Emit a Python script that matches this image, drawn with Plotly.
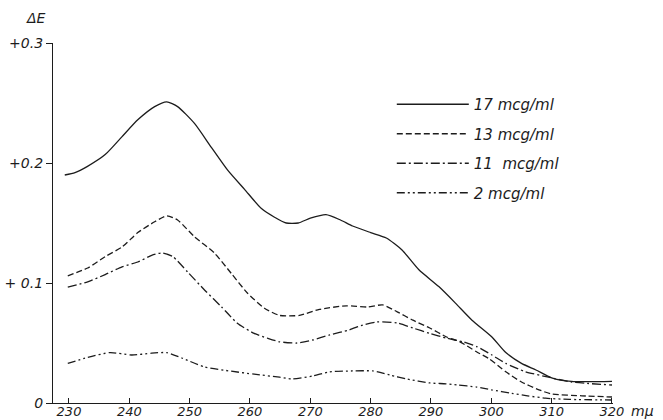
import plotly.graph_objects as go

# ---- data ----
x17 = [229.3, 231, 233, 236, 238.8, 241.4, 244.2, 246.2, 248, 250.8, 253.6, 256.3, 259.1, 261.9, 264,
       266, 268, 270, 272.6, 275, 277, 280, 282.6, 285.2, 288, 291.3, 294.1, 296.8, 300.1, 302.4, 305,
       307.4, 310, 313.3, 320]
y17 = [0.190, 0.192, 0.197, 0.207, 0.222, 0.236, 0.247, 0.251, 0.247, 0.233, 0.213, 0.194, 0.178, 0.162,
       0.155, 0.150, 0.150, 0.154, 0.157, 0.1525, 0.1475, 0.142, 0.1375, 0.1275, 0.111, 0.097, 0.083,
       0.069, 0.055, 0.042, 0.033, 0.0275, 0.021, 0.018, 0.018]

x13 = [229.8, 233.1, 236, 238.8, 241.4, 244.2, 246.2, 248, 250.8, 254.1, 256.9, 259.6, 262.4, 264.9,
       268.2, 271.5, 276, 279.4, 282, 284.4, 287, 289.8, 292.6, 294.8, 297.6, 299.6, 302.4, 305, 307.9,
       310, 315, 320]
y13 = [0.106, 0.1125, 0.122, 0.130, 0.142, 0.151, 0.156, 0.1525, 0.1385, 0.125, 0.108, 0.0915, 0.079,
       0.073, 0.073, 0.078, 0.081, 0.080, 0.0817, 0.076, 0.069, 0.0625, 0.055, 0.051, 0.0425, 0.037,
       0.026, 0.0175, 0.011, 0.0075, 0.006, 0.005]

x11 = [229.8, 233.1, 236, 238.8, 241.4, 243.7, 245.4, 247.2, 249.7, 252.5, 255.3, 257.9, 260.7, 262.9,
       264.9, 267.8, 270.4, 273.2, 276.5, 278.7, 281, 284.4, 287, 289.8, 292.6, 295.3, 297.6, 300.1,
       302.4, 305.7, 309.5, 313.3, 320]
y11 = [0.0965, 0.101, 0.107, 0.1135, 0.1175, 0.123, 0.125, 0.122, 0.109, 0.094, 0.080, 0.0665, 0.058,
       0.054, 0.051, 0.050, 0.0525, 0.0567, 0.061, 0.065, 0.0675, 0.0667, 0.0625, 0.058, 0.054, 0.051,
       0.047, 0.040, 0.033, 0.026, 0.0215, 0.0175, 0.015]

x2 = [229.8, 233.1, 236.8, 240.4, 243.7, 246.2, 248.7, 252.5, 256.9, 260.7, 264.9, 267, 270.4, 273.2,
      277, 280.4, 283.2, 286, 289.8, 292.5, 294.3, 297.6, 300, 303.4, 306, 309, 313, 320]
y2 = [0.033, 0.038, 0.042, 0.040, 0.0415, 0.042, 0.0375, 0.030, 0.0265, 0.024, 0.0215, 0.020, 0.0225,
      0.026, 0.0267, 0.0267, 0.0233, 0.020, 0.0167, 0.016, 0.015, 0.0133, 0.011, 0.008, 0.006, 0.004,
      0.003, 0.0025]

series_names = ["17 mcg/ml", "13 mcg/ml", "11  mcg/ml", "2 mcg/ml"]
series_x = [x17, x13, x11, x2]
series_y = [y17, y13, y11, y2]
dashes = ["solid", "6px,3px", "9px,3px,2px,3px", "8px,3px,2px,3px,2px,3px"]

x_tickvals = [230, 240, 250, 260, 270, 280, 290, 300, 310, 320]
x_ticktext = ["230", "240", "250", "260", "270", "280", "290", "300", "310", "320"]
y_tickvals = [0, 0.1, 0.2, 0.3]
y_ticktext = ["0", "+ 0.1", "+0.2", "+0.3"]

INK = "#1c1c1c"
FONT = "DejaVu Sans"

fig = go.Figure()
for i, (nm, xs, ys, dsh) in enumerate(zip(series_names, series_x, series_y, dashes)):
    fig.add_trace(go.Scatter(
        x=xs, y=ys, mode="lines", name=nm, legendgroup=f"g{i}",
        line=dict(color=INK, width=1.3, dash=dsh, shape="spline", smoothing=0.6),
    ))

fig.update_layout(
    width=663, height=420,
    margin=dict(l=53, r=50, t=43, b=17),
    paper_bgcolor="white", plot_bgcolor="white",
    font=dict(family=FONT, color=INK, size=14),
    showlegend=True,
    legend=dict(
        x=0.605, y=0.875, xanchor="left", yanchor="top",
        bgcolor="rgba(0,0,0,0)", borderwidth=0,
        itemwidth=72, tracegroupgap=7,
        font=dict(family=FONT, size=15, color=INK, style="italic"),
    ),
    xaxis=dict(
        range=[227.35, 320.17], showgrid=False, zeroline=False,
        showline=True, linecolor=INK, linewidth=1.3,
        ticks="inside", ticklen=5, tickcolor=INK, tickwidth=1,
        tickvals=x_tickvals, ticktext=x_ticktext, ticklabelstandoff=-4,
        tickfont=dict(family=FONT, size=13, color=INK, style="italic"),
        automargin=False,
    ),
    yaxis=dict(
        range=[0, 0.3], showgrid=False, zeroline=False,
        showline=True, linecolor=INK, linewidth=1.3,
        ticks="outside", ticklen=6, tickcolor=INK, tickwidth=1,
        tickvals=y_tickvals, ticktext=y_ticktext,
        tickfont=dict(family=FONT, size=14, color=INK, style="italic"),
        automargin=False,
    ),
    annotations=[
        dict(text="ΔE", xref="paper", yref="paper", x=-0.03, y=1.07,
             xanchor="center", yanchor="middle", showarrow=False,
             font=dict(family=FONT, size=14, color=INK, style="italic")),
        dict(text="mμ", xref="x", yref="paper", x=320, y=0,
             xanchor="left", yanchor="bottom", xshift=18, yshift=-17, showarrow=False,
             borderpad=0,
             font=dict(family=FONT, size=14, color=INK, style="italic")),
    ],
)

fig.write_html("out.html")
